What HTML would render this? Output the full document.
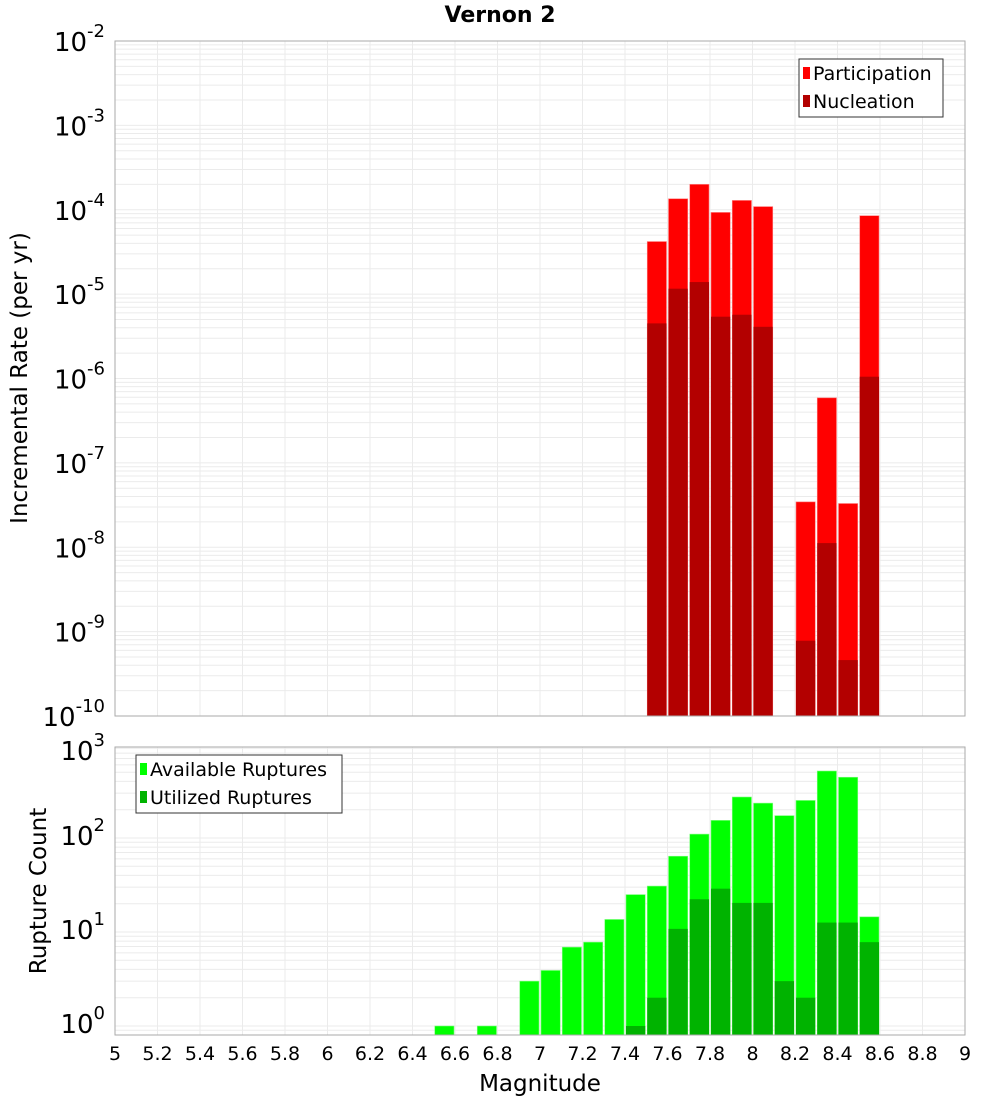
<!DOCTYPE html>
<html><head><meta charset="utf-8"><style>
body{margin:0;background:#fff}
svg{display:block;font-family:"DejaVu Sans","Liberation Sans",sans-serif}
</style></head><body>
<svg id="c" width="1000" height="1100" viewBox="0 0 1000 1100"></svg>
<script>
const bins=[6.55,6.75,6.95,7.05,7.15,7.25,7.35,7.45,7.55,7.65,7.75,7.85,7.95,8.05,8.15,8.25,8.35,8.45,8.55];
const available=[1,1,3,3.9,6.9,7.8,13.6,25,30.8,64,110,154,273,235,173,251,516,443,14.5];
const utilized=[0,0,0,0,0,0,0,1,2,10.8,22.3,28.9,20.4,20.4,3,2,12.6,12.6,7.8];
const rateBins=[7.55,7.65,7.75,7.85,7.95,8.05,8.25,8.35,8.45,8.55];
const participation=[4.2e-5,1.35e-4,2.0e-4,9.3e-5,1.29e-4,1.09e-4,3.45e-8,5.9e-7,3.3e-8,8.5e-5];
const nucleation=[4.5e-6,1.16e-5,1.39e-5,5.4e-6,5.7e-6,4.1e-6,7.8e-10,1.12e-8,4.6e-10,1.05e-6];
const xTicks=[5,5.2,5.4,5.6,5.8,6,6.2,6.4,6.6,6.8,7,7.2,7.4,7.6,7.8,8,8.2,8.4,8.6,8.8,9];
const topExp=[-2,-3,-4,-5,-6,-7,-8,-9,-10];
const botExp=[3,2,1,0];

const svg=document.getElementById('c');const NS='http://www.w3.org/2000/svg';
function mk(t,a,p){const e=document.createElementNS(NS,t);for(const k in a)e.setAttribute(k,a[k]);(p||svg).appendChild(e);return e;}
const L=115,R=965;
const x=m=>L+(m-5)*(R-L)/4;
const yTop=v=>41+(-2-Math.log10(v))*84.375;
const yBot=v=>1026-94*Math.log10(v);
const BW=(R-L)/40;
function grid(y0,y1,yf,lo,hi,name){
  const g=mk('g',{});
  for(let e=lo;e<hi;e++)for(let k=1;k<10;k++){const yy=yf(k*Math.pow(10,e));if(yy<y0||yy>y1)continue;
    mk('line',{x1:L,x2:R,y1:yy,y2:yy,stroke:'#ebebeb','stroke-width':1},g);}
  xTicks.forEach(t=>mk('line',{x1:x(t),x2:x(t),y1:y0,y2:y1,stroke:'#ebebeb','stroke-width':1},g));
}
grid(41,716,yTop,-10,-2,'top-grid');
grid(747,1035,yBot,-1,3,'bottom-grid');
rateBins.forEach((m,i)=>{
  let r=mk('rect',{x:x(m)-BW/2+1,y:yTop(participation[i]),width:BW-2,height:716-yTop(participation[i]),fill:'#ff0000',stroke:'#ff8080','stroke-width':0.6});
  
  r=mk('rect',{x:x(m)-BW/2+1,y:yTop(nucleation[i]),width:BW-2,height:716-yTop(nucleation[i]),fill:'#b30000'});
  
});
bins.forEach((m,i)=>{
  let r=mk('rect',{x:x(m)-BW/2+1,y:yBot(available[i]),width:BW-2,height:1035-yBot(available[i]),fill:'#00ff00',stroke:'#80ff80','stroke-width':0.6});
  
  if(utilized[i]>0){r=mk('rect',{x:x(m)-BW/2+1,y:yBot(utilized[i]),width:BW-2,height:1035-yBot(utilized[i]),fill:'#00b300'});
  }
});
mk('rect',{x:L,y:41,width:R-L,height:675,fill:'none',stroke:'#aaa','stroke-width':1});
mk('rect',{x:L,y:747,width:R-L,height:288,fill:'none',stroke:'#aaa','stroke-width':1});
function expLabel(yy,e,name){const t=mk('text',{x:105,y:yy+10,'text-anchor':'end','font-size':26,fill:'#000'});
  
  const a=mk('tspan',{},t);a.textContent='10';const b=mk('tspan',{dy:-14,'font-size':18},t);b.textContent=String(e);}
topExp.forEach(e=>expLabel(yTop(Math.pow(10,e)),e,'top-y-tick-label'));
botExp.forEach(e=>expLabel(Math.max(yBot(Math.pow(10,e))-3,750),e,'bottom-y-tick-label'));
xTicks.forEach(t=>{const e=mk('text',{x:x(t),y:1060,'text-anchor':'middle','font-size':19},svg);e.textContent=String(t);
  });
let t=mk('text',{x:500,y:22,'text-anchor':'middle','font-size':22,'font-weight':'bold'});t.textContent='Vernon 2';
t=mk('text',{x:540,y:1091,'text-anchor':'middle','font-size':23});t.textContent='Magnitude';
t=mk('text',{x:0,y:0,'text-anchor':'middle','font-size':23,transform:'translate(27,378) rotate(-90)'});t.textContent='Incremental Rate (per yr)';
t=mk('text',{x:0,y:0,'text-anchor':'middle','font-size':23,transform:'translate(46,891) rotate(-90)'});t.textContent='Rupture Count';
function legend(x0,y0,w,items,name){const g=mk('g',{});
  mk('rect',{x:x0,y:y0,width:w,height:58,fill:'#fff',stroke:'#333','stroke-width':1},g);
  items.forEach((it,i)=>{const cy=y0+14+i*28;mk('rect',{x:x0+4,y:cy-6,width:7,height:12,fill:it[1]},g);
    const tt=mk('text',{x:x0+14,y:cy+7,'font-size':19},g);tt.textContent=it[0];
    });}
legend(799,59,144,[['Participation','#ff0000'],['Nucleation','#b30000']],'top-legend');
legend(136,755,206,[['Available Ruptures','#00ff00'],['Utilized Ruptures','#00b300']],'bottom-legend');
</script>
</body></html>
